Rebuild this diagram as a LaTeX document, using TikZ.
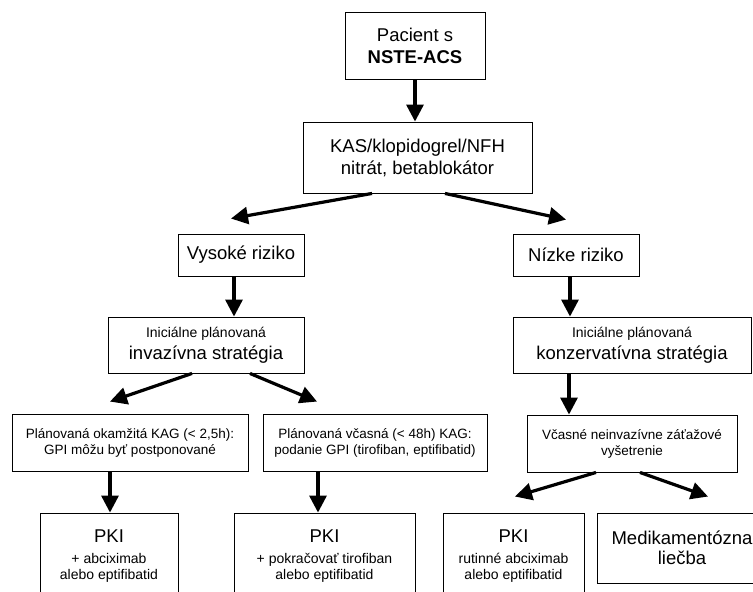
\documentclass[tikz,border=0pt]{standalone}
\usepackage{fontspec}
\setmainfont{Liberation Sans}
\usetikzlibrary{arrows.meta,calc}
\begin{document}
\begin{tikzpicture}[x=1pt,y=-1pt,
  box/.style={draw, line width=0.9pt, inner sep=0pt, align=center, font=\fontsize{18.5}{22}\selectfont},
  sbox/.style={box, font=\fontsize{13.5}{16}\selectfont},
  pbox/.style={box, font=\fontsize{14}{16}\selectfont},
  arr/.style={line width=3.2pt, -{Triangle[length=17pt,width=17pt]}}]
\useasboundingbox (0,0) rectangle (753,592);
\fill[white] (0,0) rectangle (753,592);
\clip (0,0) rectangle (753,592);
% nodes
\node[box, minimum width=140pt, minimum height=67pt] (P) at (415,45.5) {Pacient s\\\textbf{NSTE-ACS}};
\node[box, minimum width=229pt, minimum height=71pt] (K) at (417.5,157.5) {KAS/klopidogrel/NFH\\nitrát, betablokátor};
\node[box, minimum width=126pt, minimum height=42pt] (V) at (241,255) {Vysoké riziko};
\node[box, minimum width=126pt, minimum height=42pt] (N) at (576,255) {Nízke riziko};
\node[box, minimum width=196pt, minimum height=56pt] (I) at (206,345) {{\fontsize{14}{16}\selectfont Iniciálne plánovaná}\\invazívna stratégia};
\node[box, minimum width=238pt, minimum height=56pt] (C) at (632,345) {{\fontsize{14}{16}\selectfont Iniciálne plánovaná}\\konzervatívna stratégia};
\node[sbox, minimum width=236pt, minimum height=57pt] (L1) at (130,442.5) {Plánovaná okamžitá KAG (< 2,5h):\\GPI môžu byť postponované};
\node[sbox, minimum width=224pt, minimum height=57pt] (L2) at (375,442.5) {Plánovaná včasná (< 48h) KAG:\\podanie GPI (tirofiban, eptifibatid)};
\node[sbox, minimum width=210pt, minimum height=57pt] (E) at (632,443.5) {Včasné neinvazívne záťažové\\vyšetrenie};
\node[pbox, minimum width=138pt, minimum height=86pt] (PK1) at (109,556) {{\fontsize{18.5}{22}\selectfont PKI}\\[5pt]+ abciximab\\alebo eptifibatid};
\node[pbox, minimum width=181pt, minimum height=86pt] (PK2) at (324.5,556) {{\fontsize{18.5}{22}\selectfont PKI}\\[5pt]+ pokračovať tirofiban\\alebo eptifibatid};
\node[pbox, minimum width=141pt, minimum height=86pt] (PK3) at (513.5,556) {{\fontsize{18.5}{22}\selectfont PKI}\\[5pt]rutinné abciximab\\alebo eptifibatid};
\node[box, font=\fontsize{18.5}{20}\selectfont, minimum width=170pt, minimum height=70pt] (M) at (682,548) {Medikamentózna\\liečba};
% connectors
\draw[arr] (P.south) -- ([xshift=-2.5pt]K.north);
\draw[arr] ([xshift=-45.5pt]K.south) -- ([xshift=-10pt,yshift=15pt]V.north);
\draw[arr] ([xshift=27.5pt]K.south) -- ([xshift=-10pt,yshift=14pt]N.north);
\draw[arr] ([xshift=-7pt]V.south) -- ([xshift=28pt]I.north);
\draw[arr] ([xshift=-6pt]N.south) -- ([xshift=-62pt]C.north);
\draw[arr] ([xshift=-14pt]I.south) -- ([xshift=-20pt,yshift=12pt]L1.north);
\draw[arr] ([xshift=44pt]I.south) -- ([xshift=-58pt,yshift=12pt]L2.north);
\draw[arr] ([xshift=-20pt]L1.south) -- ([xshift=1pt]PK1.north);
\draw[arr] ([xshift=-57pt]L2.south) -- ([xshift=-6.5pt]PK2.north);
\draw[arr] ([xshift=-63pt]C.south) -- ([xshift=-63pt]E.north);
\draw[arr] ([xshift=-36pt]E.south) -- ([xshift=1.5pt,yshift=16pt]PK3.north);
\draw[arr] ([xshift=8pt]E.south) -- ([xshift=26pt,yshift=16pt]M.north);
\end{tikzpicture}
\end{document}
